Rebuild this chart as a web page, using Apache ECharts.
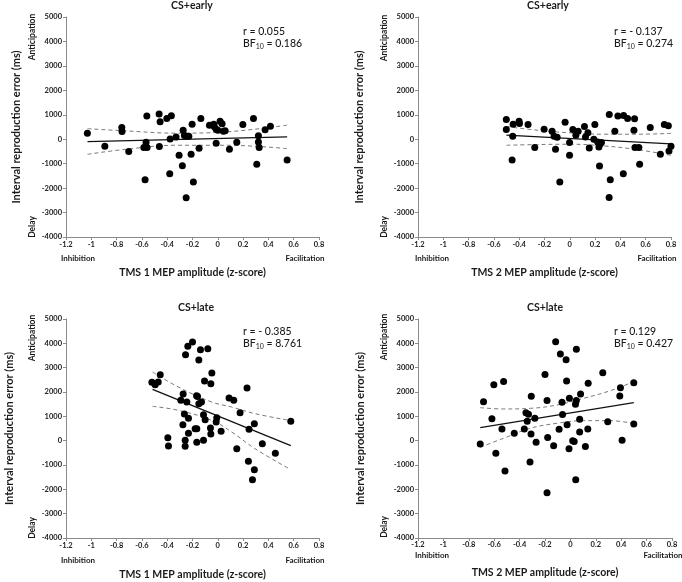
<!DOCTYPE html>
<html>
<head>
<meta charset="utf-8">
<script src="https://cdn.jsdelivr.net/npm/echarts@6/dist/echarts.min.js"></script>
<style>
  html, body { margin: 0; padding: 0; background: #fff; }
  #chart { width: 682px; height: 582px; }
</style>
</head>
<body>
<div id="chart"></div>
<script>
// scatter points [MEP z-score, reproduction error ms], one array per panel
const tms1Early = [[-1.031,247],[-0.893,-288],[-0.759,479],[-0.757,315],[-0.704,-507],[-0.585,-342],[-0.559,-342],[-0.567,-123],[-0.561,945],[-0.575,-1658],[-0.464,1027],[-0.456,712],[-0.462,-301],[-0.403,849],[-0.367,959],[-0.377,14],[-0.38,-1411],[-0.33,96],[-0.274,370],[-0.28,-1082],[-0.306,-658],[-0.264,150],[-0.248,123],[-0.229,123],[-0.25,-2397],[-0.203,616],[-0.211,-616],[-0.193,-1753],[-0.148,-370],[-0.134,849],[-0.066,575],[-0.032,616],[-0.027,507],[-0.013,411],[-0.013,-164],[0,370],[0.018,740],[0.034,630],[0.044,329],[0.058,342],[0.092,-411],[0.15,-123],[0.198,603],[0.282,849],[0.308,-1027],[0.321,137],[0.321,-110],[0.327,-342],[0.374,384],[0.416,534],[0.548,-849]];
const tms2Early = [[-0.502,808],[-0.502,397],[-0.451,123],[-0.448,616],[-0.456,-849],[-0.401,740],[-0.398,644],[-0.33,603],[-0.277,-342],[-0.203,411],[-0.14,329],[-0.124,123],[-0.1,82],[-0.113,-411],[-0.079,-1753],[-0.037,699],[-0.002,-137],[-0.002,-658],[0.024,397],[0.048,164],[0.066,329],[0.116,521],[0.124,96],[0.143,260],[0.154,-356],[0.198,603],[0.19,0],[0.22,-110],[0.23,-315],[0.24,-200],[0.25,-137],[0.235,-1096],[0.312,1014],[0.32,-1658],[0.311,-2384],[0.356,329],[0.38,945],[0.423,-1411],[0.425,973],[0.457,849],[0.512,836],[0.507,370],[0.515,-342],[0.546,-342],[0.552,-1027],[0.636,479],[0.716,-616],[0.747,603],[0.779,548],[0.784,-479],[0.8,-288]];
const tms1Late = [[-0.521,2397],[-0.495,2301],[-0.471,2411],[-0.455,2712],[-0.395,123],[-0.39,-222],[-0.276,658],[-0.274,1918],[-0.264,1096],[-0.255,3534],[-0.245,1587],[-0.258,-234],[-0.258,12],[-0.292,1656],[-0.237,3877],[-0.232,918],[-0.232,300],[-0.2,4055],[-0.179,493],[-0.166,493],[-0.166,-60],[-0.168,1849],[-0.16,1820],[-0.15,3315],[-0.15,1521],[-0.137,3740],[-0.129,1589],[-0.113,1069],[-0.113,12],[-0.105,2450],[-0.1,863],[-0.079,3781],[-0.058,521],[-0.055,274],[-0.055,2342],[-0.047,2781],[-0.013,765],[-0.008,945],[0.026,382],[0.089,1753],[0.126,1660],[0.15,-329],[0.176,1151],[0.231,2162],[0.242,-850],[0.247,470],[0.274,-1603],[0.289,-1200],[0.289,695],[0.352,-123],[0.455,-515],[0.577,795]];
const tms2Late = [[-0.71,-137],[-0.684,1603],[-0.618,900],[-0.587,-520],[-0.603,2300],[-0.539,481],[-0.526,2430],[-0.515,-1247],[-0.442,300],[-0.363,481],[-0.35,1151],[-0.34,800],[-0.33,1085],[-0.31,275],[-0.308,1830],[-0.318,-877],[-0.28,925],[-0.27,-70],[-0.2,2720],[-0.184,1650],[-0.179,130],[-0.184,-2137],[-0.132,-210],[-0.116,4068],[-0.089,470],[-0.079,3562],[-0.066,1580],[-0.062,1075],[-0.034,3329],[-0.03,2452],[-0.026,650],[-0.008,1743],[-0.011,-330],[0.018,0],[0.03,-35],[0.042,-1603],[0.047,1650],[0.04,1500],[0.047,3753],[0.073,879],[0.073,360],[0.08,1918],[0.118,-240],[0.137,475],[0.14,2359],[0.255,2790],[0.294,775],[0.389,1837],[0.394,2175],[0.407,20],[0.499,2384],[0.499,690]];

// fitted line and 95% band
const fitX1 = [-1.03, 0.548];
const fitY1 = [-97, 95];
const bandX1 = [-1.03, -0.725, -0.33, 0.066, 0.548];
const upper1 = [430, 341, 247, 300, 575];
const lower1 = [-616, -411, -247, -247, -384];

const fitX2 = [-0.501, 0.8];
const fitY2 = [170, -190];
const bandX2 = [-0.501, -0.258, 0.005, 0.27, 0.534, 0.8];
const upper2 = [520, 370, 260, 205, 205, 240];
const lower2 = [-247, -219, -205, -274, -425, -660];

const fitX3 = [-0.516, 0.577];
const fitY3 = [2108, -200];
const bandX3 = [-0.516, -0.311, -0.047, 0.11, 0.294, 0.577];
const upper3 = [2820, 2203, 1587, 1381, 1110, 825];
const lower3 = [1410, 1245, 834, 354, -329, -1190];

const fitX4 = [-0.71, 0.499];
const fitY4 = [534, 1562];
const bandX4 = [-0.71, -0.526, -0.315, -0.105, 0.105, 0.315, 0.499];
const upper4 = [1356, 1303, 1329, 1467, 1743, 2055, 2425];
const lower4 = [-271, 99, 510, 715, 822, 822, 700];

const titles = ['CS+early', 'CS+early', 'CS+late', 'CS+late'];
const rValues = ['0.055', '- 0.137', '- 0.385', '0.129'];
const bfValues = ['0.186', '0.274', '8.761', '0.427'];
const xNames = ['TMS 1 MEP amplitude (z-score)', 'TMS 2 MEP amplitude (z-score)', 'TMS 1 MEP amplitude (z-score)', 'TMS 2 MEP amplitude (z-score)'];

const FONT = 'Lato, "Open Sans", sans-serif';
const AX = '#8a8a8a';

const grids = [
  { left: 66, top: 17, width: 253, height: 220 },
  { left: 418, top: 17, width: 253, height: 220 },
  { left: 66, top: 319, width: 253, height: 219 },
  { left: 418, top: 319, width: 254, height: 219 }
];
const yNameGap = [44, 53, 51, 52];
const xNameGap = [30, 30, 31, 29];
const xLabelMargin = [4, 4, 4, 3];

function zip(xs, ys) {
  return xs.map((x, i) => [x, ys[i]]);
}

const xAxes = grids.map((g, i) => ({
  gridIndex: i,
  type: 'value',
  min: -1.2, max: 0.8, interval: 0.2,
  name: xNames[i],
  nameLocation: 'middle',
  nameGap: xNameGap[i],
  nameTextStyle: { fontFamily: FONT, fontSize: 10.5, fontWeight: 'bold', color: '#1a1a1a' },
  axisLine: { onZero: false, lineStyle: { color: AX, width: 1 } },
  axisTick: { length: 3, lineStyle: { color: AX } },
  splitLine: { show: false },
  axisLabel: {
    fontFamily: FONT, fontSize: 7.5, fontWeight: 'bold', color: '#1a1a1a', margin: xLabelMargin[i],
    formatter: v => String(+v.toFixed(1))
  }
}));

const yAxes = grids.map((g, i) => ({
  gridIndex: i,
  type: 'value',
  min: -4000, max: 5000, interval: 1000,
  name: 'Interval reproduction error (ms)',
  nameLocation: 'middle',
  nameGap: yNameGap[i],
  nameRotate: 90,
  nameTextStyle: { fontFamily: FONT, fontSize: 11, fontWeight: 'bold', color: '#1a1a1a' },
  axisLine: { onZero: false, lineStyle: { color: AX, width: 1 } },
  axisTick: { length: 3, lineStyle: { color: AX } },
  splitLine: { show: false },
  axisLabel: {
    fontFamily: FONT, fontSize: 7.5, fontWeight: 'bold', color: '#1a1a1a', margin: 4,
    formatter: v => String(v)
  }
}));

const panels = [
  { pts: tms1Early, fx: fitX1, fy: fitY1, bx: bandX1, up: upper1, lo: lower1 },
  { pts: tms2Early, fx: fitX2, fy: fitY2, bx: bandX2, up: upper2, lo: lower2 },
  { pts: tms1Late, fx: fitX3, fy: fitY3, bx: bandX3, up: upper3, lo: lower3 },
  { pts: tms2Late, fx: fitX4, fy: fitY4, bx: bandX4, up: upper4, lo: lower4 }
];

const series = [];
panels.forEach((p, i) => {
  const band = {
    type: 'line', xAxisIndex: i, yAxisIndex: i, smooth: 0.4, symbol: 'none', silent: true,
    lineStyle: { color: '#7a7a7a', width: 1, type: [4, 3] }, z: 3
  };
  series.push(Object.assign({}, band, { data: zip(p.bx, p.up) }));
  series.push(Object.assign({}, band, { data: zip(p.bx, p.lo) }));
  series.push({
    type: 'line', xAxisIndex: i, yAxisIndex: i, symbol: 'none', silent: true,
    lineStyle: { color: '#111', width: 1.3 }, data: zip(p.fx, p.fy), z: 3
  });
  series.push({
    type: 'scatter', xAxisIndex: i, yAxisIndex: i, symbol: 'circle', symbolSize: 7,
    itemStyle: { color: '#000', opacity: 1 }, data: p.pts, z: 4
  });
});

// text placed around each panel
const titlePos = [[192, 6], [548, 6], [196, 308], [545, 308]];
const statPos = [[243, 32], [614, 32], [243, 332], [614, 332]];
const sideLabels = [
  { ant: [32, 37], del: [32, 227], inh: [78, 258], fac: [305, 258] },
  { ant: [384, 38], del: [384, 227], inh: [432, 258], fac: [657, 258] },
  { ant: [32, 338], del: [32, 528], inh: [78, 560], fac: [305, 560] },
  { ant: [384, 337], del: [384, 527], inh: [432, 555], fac: [663, 555] }
];

const graphic = [];
function txt(x, y, text, size, weight, rot) {
  graphic.push({
    type: 'text', x: x, y: y, rotation: rot || 0,
    style: {
      text: text, fill: '#1a1a1a', align: 'center', verticalAlign: 'middle',
      font: weight + ' ' + size + 'px ' + FONT
    }
  });
}
titles.forEach((t, i) => txt(titlePos[i][0], titlePos[i][1], t, 10.5, 'bold'));
sideLabels.forEach(s => {
  txt(s.ant[0], s.ant[1], 'Anticipation', 8.5, 'bold', Math.PI / 2);
  txt(s.del[0], s.del[1], 'Delay', 8.5, 'bold', Math.PI / 2);
  txt(s.inh[0], s.inh[1], 'Inhibition', 8, 'bold');
  txt(s.fac[0], s.fac[1], 'Facilitation', 8, 'bold');
});
rValues.forEach((r, i) => {
  graphic.push({
    type: 'text', x: statPos[i][0], y: statPos[i][1] - 6,
    style: {
      text: '{a|r = ' + r + '}\n{a|BF}{s|10}{a| = ' + bfValues[i] + '}',
      fill: '#1a1a1a', align: 'left', verticalAlign: 'top',
      rich: {
        a: { fontFamily: FONT, fontSize: 10.5, fontWeight: 500, lineHeight: 12, fill: '#1a1a1a' },
        s: { fontFamily: FONT, fontSize: 7, lineHeight: 6, verticalAlign: 'bottom', fill: '#1a1a1a' }
      }
    }
  });
});

const chart = echarts.init(document.getElementById('chart'), null, { renderer: 'canvas' });
chart.setOption({
  animation: false,
  backgroundColor: '#fff',
  grid: grids,
  xAxis: xAxes,
  yAxis: yAxes,
  series: series,
  graphic: graphic
});
</script>
</body>
</html>
